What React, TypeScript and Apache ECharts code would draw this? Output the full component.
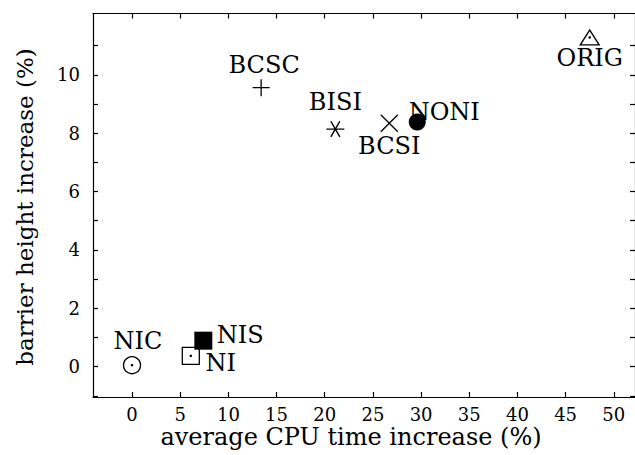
import React, { useEffect, useRef } from "react";
import * as echarts from "echarts";

const names = ["NIC", "NI", "NIS", "BCSC", "BISI", "BCSI", "NONI", "ORIG"];
const xValues = [0, 6.1, 7.4, 13.4, 21.1, 26.7, 29.6, 47.5];
const yValues = [0.05, 0.37, 0.89, 9.56, 8.14, 8.34, 8.38, 11.28];
const xTicks = [0, 5, 10, 15, 20, 25, 30, 35, 40, 45, 50];
const yTicks = [-1, 0, 1, 2, 3, 4, 5, 6, 7, 8, 9, 10, 11];
const yLabels = [0, 2, 4, 6, 8, 10];
const xTitle = "average CPU time increase (%)";
const yTitle = "barrier height increase (%)";

const SERIF = "DejaVu Serif";

const stroke = { color: "transparent", borderColor: "#000", borderWidth: 1.3, opacity: 1 };
const solid = { color: "#000", borderColor: "#000", borderWidth: 0, opacity: 1 };

const markStyles: Record<string, any> = {
  NIC: { symbol: "circle", size: 17, item: stroke, offset: [6, -24], dot: true },
  NI: { symbol: "rect", size: 17, item: stroke, offset: [30, 7], dot: true },
  NIS: { symbol: "rect", size: 18, item: solid, offset: [37, -6] },
  BCSC: { symbol: "path://M0,10L20,10M10,0L10,20", size: 17, item: stroke, offset: [3, -23] },
  BISI: {
    symbol: "path://M0,10L20,10M15,1.34L5,18.66M5,1.34L15,18.66",
    size: [18, 15.6],
    item: stroke,
    offset: [0, -27],
  },
  BCSI: { symbol: "path://M0,0L20,20M20,0L0,20", size: 17, item: stroke, offset: [0, 23] },
  NONI: { symbol: "circle", size: 17, item: solid, offset: [27, -10] },
  ORIG: { symbol: "triangle", size: [19, 15], item: stroke, offset: [0, 21], dot: true },
};

export default function App() {
  const ref = useRef<HTMLDivElement>(null);
  useEffect(() => {
    document.body.style.margin = "0";
    const chart = echarts.init(ref.current!, null, { renderer: "svg" });
    const axisLine = { show: true, onZero: false, lineStyle: { color: "#000", width: 1.2 } };
    const tick = (vals: number[]) => ({
      show: true,
      inside: true,
      length: 5,
      customValues: vals,
      lineStyle: { color: "#000", width: 1.2 },
    });
    const series: any[] = names.map((n, i) => {
      const s = markStyles[n];
      return {
        type: "scatter",
        name: n,
        symbol: s.symbol,
        symbolSize: s.size,
        itemStyle: s.item,
        data: [[xValues[i], yValues[i]]],
        label: {
          show: true,
          position: "inside",
          offset: s.offset,
          formatter: n,
          color: "#000",
          opacity: 1,
          fontFamily: SERIF,
          fontSize: 24,
        },
        emphasis: { disabled: true },
      };
    });
    series.push({
      type: "scatter",
      name: "dots",
      symbol: "circle",
      symbolSize: 2.5,
      itemStyle: { color: "#000", opacity: 1 },
      data: names
        .map((n, i) => (markStyles[n].dot ? [xValues[i], yValues[i]] : null))
        .filter((d) => d),
      z: 5,
    });
    chart.setOption({
      animation: false,
      textStyle: { fontFamily: SERIF },
      grid: { left: 93, right: -3, top: 13.5, bottom: 58 },
      xAxis: [
        {
          type: "value",
          min: -4.05,
          max: 52.2,
          position: "bottom",
          axisLine,
          axisTick: tick(xTicks),
          axisLabel: {
            customValues: xTicks,
            color: "#000",
            fontFamily: SERIF,
            fontSize: 18,
            lineHeight: 17,
            margin: 9,
          },
          splitLine: { show: false },
        },
        {
          type: "value",
          min: -4.05,
          max: 52.2,
          position: "top",
          axisLine,
          axisTick: tick(xTicks),
          axisLabel: { show: false },
          splitLine: { show: false },
        },
      ],
      yAxis: [
        {
          type: "value",
          min: -1.04,
          max: 12.1,
          position: "left",
          axisLine,
          axisTick: tick(yTicks),
          axisLabel: {
            customValues: yLabels,
            color: "#000",
            fontFamily: SERIF,
            fontSize: 18,
            margin: 13,
          },
          splitLine: { show: false },
        },
        {
          type: "value",
          min: -1.04,
          max: 12.1,
          position: "right",
          axisLine,
          axisTick: tick(yTicks),
          axisLabel: { show: false },
          splitLine: { show: false },
        },
      ],
      graphic: [
        {
          type: "text",
          x: 351,
          y: 437,
          style: {
            text: xTitle,
            fill: "#000",
            fontFamily: SERIF,
            fontSize: 24,
            lineHeight: 22,
            align: "center",
            verticalAlign: "middle",
          },
        },
        {
          type: "text",
          x: 25,
          y: 207,
          rotation: Math.PI / 2,
          style: {
            text: yTitle,
            fill: "#000",
            fontFamily: SERIF,
            fontSize: 23,
            align: "center",
            verticalAlign: "middle",
          },
        },
      ],
      series,
    });
    return () => chart.dispose();
  }, []);
  return <div ref={ref} style={{ width: 635, height: 455 }} />;
}
